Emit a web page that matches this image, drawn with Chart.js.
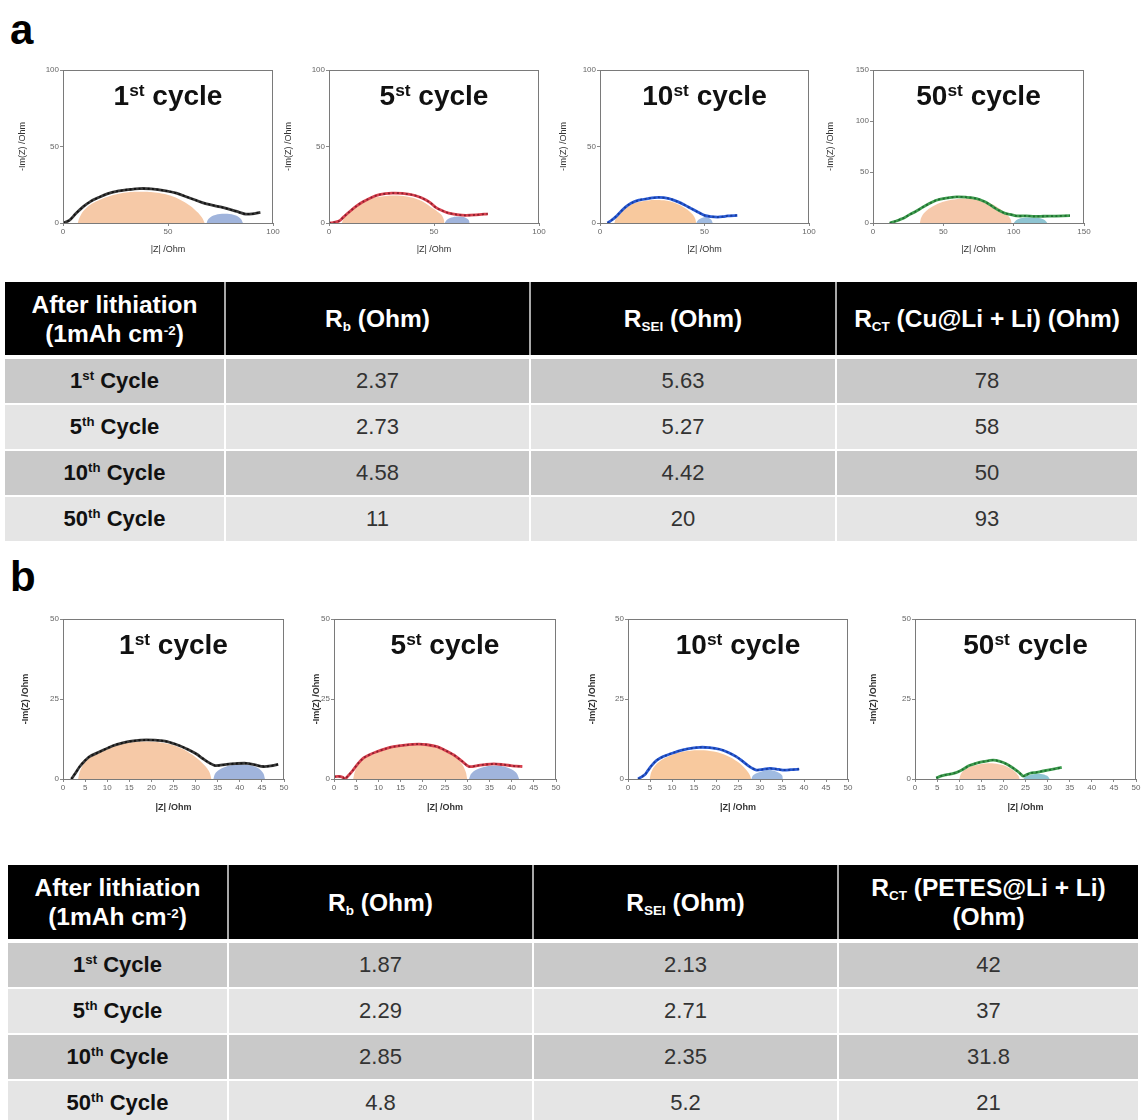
<!DOCTYPE html>
<html><head><meta charset="utf-8">
<script src="https://cdn.jsdelivr.net/npm/chart.js@4.4.1/dist/chart.umd.min.js"></script>
<style>
html,body{margin:0;padding:0;background:#fff;}
body{width:1142px;height:1120px;position:relative;overflow:hidden;font-family:"Liberation Sans",Arial,sans-serif;}
.panel{position:absolute;font-weight:bold;font-size:42px;color:#000;line-height:42px;}
.box{position:absolute;}
.ttl{position:absolute;font-weight:bold;font-size:28px;color:#111;white-space:nowrap;text-align:center;line-height:30px;}
.ttl sup{font-size:0.62em;vertical-align:baseline;position:relative;top:-0.5em;}
.cell{position:absolute;display:flex;align-items:center;justify-content:center;text-align:center;box-sizing:border-box;white-space:nowrap;}
.cell > span{display:block;text-align:center;}
.hd{background:#000;color:#fff;font-weight:bold;font-size:24.5px;line-height:29px;}
.hd sub{font-size:0.55em;vertical-align:-0.28em;line-height:0;}
.hd sup{font-size:0.55em;vertical-align:0.55em;line-height:0;}
.c0{font-weight:bold;font-size:22px;color:#111;}
.c0 sup{font-size:0.6em;vertical-align:0.6em;line-height:0;}
.cv{font-size:22px;color:#333;}
</style>
</head><body>
<div class="panel" style="left:10px;top:9px;">a</div>
<div class="panel" style="left:10px;top:556px;">b</div>
<div id="root"></div>
<script>
// ---------------- DATA ----------------
const titleNums = ["1", "5", "10", "50"];
const titleSups = ["st", "st", "st", "st"];

// Nyquist curves: [ |Z| , -Im(Z) ]
const a1Curve = [[0,0],[3,1.7],[6,6],[9.5,10.5],[13,14],[17.5,17],[21,19],[25.5,20.7],[31,21.8],[36.5,22.5],[42,22.3],[49,21],[54,19.5],[59,17],[63,15],[66,13.5],[70,12],[75,10.5],[81,8.3],[84,7],[87,5.8],[90,6],[94,7]];
const a1Arc = [[7,0],[8,4],[10.5,9],[15,13.5],[22,17.5],[29,19.8],[37,20.5],[45,19.8],[52,17.5],[58,13.5],[62.5,9],[66,4],[67.5,0]];
const a1Small = [[68.3,0],[69.5,3],[72.5,5.2],[77,6],[81.5,5.2],[84.5,3],[85.7,0]];

const a2Curve = [[0,0],[2,0.3],[4.8,1.3],[7,4],[9.6,7.2],[13,11],[16,13.7],[20,16.5],[24,18.5],[30,19.5],[35,19.3],[40,18.3],[44,16.5],[48,13.5],[51,10],[54,8],[57,6.5],[61,5.5],[65,5],[70,5.3],[75.6,6]];
const a2Arc = [[6,0],[7.5,4],[10,8.5],[14,12.5],[20,16],[26,17.5],[31,18],[37,17.3],[43,15],[48,11],[53,6],[54.5,3],[55,0]];
const a2Small = [[55,0],[56.5,2.5],[59,3.8],[62,4.2],[65,3.5],[66.5,2],[67,0]];

const a3Curve = [[3.6,0],[5.5,1.8],[7.5,4],[10,7.5],[12.3,10.5],[15,13],[18.6,14.9],[23,16],[28,16.7],[33,16],[37.4,13.8],[40.5,11.8],[43.7,9.4],[47,7],[50,5],[53,4.2],[56.3,3.9],[59,4.2],[61,4.6],[65.7,5]];
const a3Arc = [[6.8,0],[7.8,3.5],[10,7.5],[13.5,11],[18,13.5],[23,14.7],[27,15],[32,14.5],[37,12.5],[41,9.5],[44,6],[45.5,3],[46,0]];
const a3Small = [[46,0],[47,2],[49,3.5],[51,3.8],[53,2.5],[54,0]];

const a4Curve = [[11.9,0],[16.6,2],[19,3.3],[22,5],[26,8.2],[30,11],[35.6,15.7],[40,19],[45,22.3],[52,24.5],[59.4,25.6],[66,25.3],[73.6,24],[80,20.5],[85.5,15.7],[90,12],[94,9.5],[97.4,8.5],[102,7],[109,6.9],[115,6.5],[121,6.6],[130,6.8],[140,7.2]];
const a4Arc = [[33.3,0],[34.5,6],[38,12],[44,17.5],[52,21.5],[60,23.5],[66.5,24],[74,23],[82,20],[89,15],[94,9.5],[97.5,4.5],[98.6,0]];
const a4Small = [[100,0],[102,3],[106,5],[112,5.5],[118,5],[122,3],[124,0]];

const b1Curve = [[1.9,0],[2.8,1.8],[3.8,3.9],[4.8,5.5],[6,7],[8.3,8.5],[11.3,10.4],[13.5,11.3],[15.9,11.9],[18.9,12.2],[22.7,11.9],[24.5,11.3],[26.4,10.4],[28.3,9.2],[30.2,7.8],[31.6,6.4],[32.9,5.2],[34.4,4.2],[37,4.6],[39,4.8],[41.5,4.9],[43.5,4.4],[45.3,3.9],[47,4.1],[48.7,4.6]];
const b1Arc = [[3.4,0],[4,3],[5.5,6],[8,8.5],[11,10.3],[14.5,11.3],[18.5,11.7],[22.5,11.3],[26,10],[29,7.8],[31.5,5],[33,2.5],[33.6,0]];
const b1Small = [[34,0],[34.6,2],[36.5,3.7],[40,4.5],[43.5,3.8],[45.2,2],[45.7,0]];

const b2Curve = [[0,0.7],[1,0.8],[2,0.5],[2.4,0],[3.2,1],[4.3,2.8],[5.4,4.8],[6.6,6.5],[8,7.6],[9.6,8.5],[11.5,9.4],[13.4,10.1],[16,10.6],[19,10.9],[21,10.7],[23.2,10.1],[25,9],[27,7.5],[28.8,5.6],[30.4,3.9],[32.3,4.2],[34,4.5],[36,4.7],[38,4.5],[39.8,4.2],[41,4],[42.4,3.9]];
const b2Arc = [[4.3,0],[4.9,3],[6.5,6],[9,8.3],[12,9.8],[15,10.4],[18,10.6],[21,10.4],[24,9.4],[26.5,7.8],[28.5,5.2],[29.6,2.5],[30,0]];
const b2Small = [[30.4,0],[31,1.8],[33,3.4],[36,4.2],[39,3.6],[41,2],[41.7,0]];

const b3Curve = [[2.3,0],[3,0.6],[3.8,1.3],[4.5,2.6],[5.3,4.1],[6.5,5.8],[8,7],[9.5,7.8],[11,8.5],[13.5,9.4],[16.3,9.9],[18.5,9.8],[20.8,9.3],[22.8,8.3],[24.6,7],[26,5.6],[27.3,4.2],[28.2,3.4],[29.2,2.8],[30.7,3],[32.2,3.3],[33.7,3.1],[35.2,2.8],[37,2.9],[38.9,3.1]];
const b3Arc = [[4.9,0],[5.5,2.8],[7,5.3],[9.5,7.3],[12.5,8.5],[16,9],[19.5,8.6],[22.5,7.3],[25,5.3],[26.8,3],[27.7,1.2],[28,0]];
const b3Small = [[28,0],[28.6,1.3],[30.5,2.4],[32,2.8],[33.8,2.3],[35,1.2],[35.2,0]];

const b4Curve = [[4.8,0.3],[5.8,0.9],[7,1.3],[8.2,1.6],[9.3,2],[10.8,3],[12.3,4.2],[13.8,4.9],[15.4,5.4],[17.7,5.9],[19.2,5.5],[20.7,4.7],[22,3.6],[23,2.6],[23.8,1.7],[24.5,0.9],[25.2,1.3],[26,1.8],[27.5,2.1],[29,2.5],[31,3],[33.2,3.6]];
const b4Arc = [[10,0],[10.6,2],[12,3.5],[14,4.4],[16.5,4.9],[19,4.6],[21,3.7],[22.6,2.3],[23.4,1],[23.7,0]];
const b4Small = [[24.5,0],[25.2,0.9],[26.8,1.5],[28.5,1.6],[29.9,1],[30.5,0]];

// Axis ticks
const aXMax = [100, 100, 100, 150];
const aYMax = [100, 100, 100, 150];
const aStep = 50;
const bXMax = 50, bYMax = 50, bXStep = 5, bYStep = 25;

// Tables
const rowNums = ["1", "5", "10", "50"];
const rowSups = ["st", "th", "th", "th"];
const rbA = ["2.37", "2.73", "4.58", "11"];
const rseiA = ["5.63", "5.27", "4.42", "20"];
const rctA = ["78", "58", "50", "93"];
const rbB = ["1.87", "2.29", "2.85", "4.8"];
const rseiB = ["2.13", "2.71", "2.35", "5.2"];
const rctB = ["42", "37", "31.8", "21"];

// ---------------- STYLE / LAYOUT ----------------
const FONT = "'Liberation Sans', Arial, sans-serif";
Chart.defaults.font.family = FONT;
Chart.defaults.animation = false;

const seriesStyle = [
  {line:'#3a3a3a', dot:'#111111', arc:'rgba(245,196,160,0.92)', small:'rgba(150,172,216,0.9)'},
  {line:'#d8424f', dot:'#8c1f2e', arc:'rgba(245,196,160,0.92)', small:'rgba(150,172,216,0.9)'},
  {line:'#2a5bd6', dot:'#173c9c', arc:'rgba(247,196,150,0.92)', small:'rgba(150,180,222,0.9)'},
  {line:'#3f9e4f', dot:'#1f6b31', arc:'rgba(245,196,165,0.92)', small:'rgba(130,190,205,0.9)'}
];

// plot area geometry [left, top, right, bottom, yTitleCenterX]
const boxesA = [[63,70,273,223,22],[329,70,539,223,288],[600,70,809,223,563],[873,70,1084,223,830]];
const boxesB = [[63,619,284,779,25],[334,619,556,779,316],[628,619,848,779,592],[915,619,1136,779,873]];

const framePlugin = {
  id: 'frame',
  afterDatasetsDraw(chart) {
    const {ctx, chartArea: a} = chart;
    ctx.save();
    ctx.strokeStyle = '#7a7a7a';
    ctx.lineWidth = 1;
    ctx.strokeRect(Math.round(a.left) + 0.5, Math.round(a.top) + 0.5, Math.round(a.right - a.left) - 1, Math.round(a.bottom - a.top));
    ctx.restore();
  }
};

const toXY = arr => arr.map(p => ({x: p[0], y: p[1]}));
const root = document.getElementById('root');

function makePlot(idx, box, curve, arc, small, style, xMax, yMax, xStep, yStep, boldTitles, xAxisH) {
  const [L, T, R, B, tX] = box;
  const padTop = 8, padRight = 12;
  const axisLeft = Math.round(tX - 5.4);
  const yW = L - axisLeft;
  const w = (R - axisLeft) + padRight;
  const h = padTop + (B - T) + xAxisH;
  const div = document.createElement('div');
  div.className = 'box';
  div.style.cssText = `left:${axisLeft}px;top:${T - padTop}px;width:${w}px;height:${h}px;`;
  const cv = document.createElement('canvas');
  div.appendChild(cv);
  root.appendChild(div);

  const tickFont = {size: 8, family: FONT};
  const titleFont = {size: 9, family: FONT, weight: boldTitles ? 'bold' : 'normal'};
  new Chart(cv, {
    type: 'line',
    data: {
      datasets: [
        {data: toXY(curve), borderColor: style.dot, borderWidth: 1.8, borderDash: [2, 2.5], pointRadius: 0, tension: 0.3, fill: false, order: 0},
        {data: toXY(curve), borderColor: style.line, borderWidth: 2.8, pointRadius: 0, tension: 0.3, fill: false, order: 1},
        {data: toXY(small), backgroundColor: style.small, borderWidth: 0, pointRadius: 0, tension: 0.4, fill: 'origin', order: 2},
        {data: toXY(arc), backgroundColor: style.arc, borderWidth: 0, pointRadius: 0, tension: 0.4, fill: 'origin', order: 3}
      ]
    },
    options: {
      responsive: true, maintainAspectRatio: false,
      layout: {padding: {top: padTop, right: padRight, left: 0, bottom: 0}},
      plugins: {legend: {display: false}, tooltip: {enabled: false}},
      scales: {
        x: {
          type: 'linear', min: 0, max: xMax,
          afterFit(s) { s.height = xAxisH; },
          ticks: {stepSize: xStep, font: tickFont, color: '#666', padding: 1, maxRotation: 0, autoSkip: false},
          grid: {drawOnChartArea: false, tickLength: 3, color: '#888'},
          border: {color: '#7a7a7a'},
          title: {display: true, text: '|Z| /Ohm', font: titleFont, color: '#333', padding: {top: 0, bottom: 0}}
        },
        y: {
          type: 'linear', min: 0, max: yMax,
          afterFit(s) { s.width = yW; },
          ticks: {stepSize: yStep, font: tickFont, color: '#666', padding: 1, autoSkip: false},
          grid: {drawOnChartArea: false, tickLength: 3, color: '#888'},
          border: {color: '#7a7a7a'},
          title: {display: true, text: '-Im(Z) /Ohm', font: titleFont, color: '#333', padding: {top: 0, bottom: 0}}
        }
      }
    },
    plugins: [framePlugin]
  });

  const t = document.createElement('div');
  t.className = 'ttl';
  t.style.left = L + 'px';
  t.style.width = (R - L) + 'px';
  t.style.top = (T + 11) + 'px';
  t.innerHTML = titleNums[idx] + '<sup>' + titleSups[idx] + '</sup> cycle';
  root.appendChild(t);
}

const aCurves = [[a1Curve,a1Arc,a1Small],[a2Curve,a2Arc,a2Small],[a3Curve,a3Arc,a3Small],[a4Curve,a4Arc,a4Small]];
const bCurves = [[b1Curve,b1Arc,b1Small],[b2Curve,b2Arc,b2Small],[b3Curve,b3Arc,b3Small],[b4Curve,b4Arc,b4Small]];
for (let i = 0; i < 4; i++) {
  makePlot(i, boxesA[i], aCurves[i][0], aCurves[i][1], aCurves[i][2], seriesStyle[i], aXMax[i], aYMax[i], aStep, aStep, false, 32);
  makePlot(i, boxesB[i], bCurves[i][0], bCurves[i][1], bCurves[i][2], seriesStyle[i], bXMax, bYMax, bXStep, bYStep, true, 34);
}

// ---------------- TABLES ----------------
function addDiv(cls, l, t, w, h, bg, html) {
  const d = document.createElement('div');
  d.className = cls;
  d.style.cssText = `left:${l}px;top:${t}px;width:${w}px;height:${h}px;` + (bg ? `background:${bg};` : '');
  if (html !== undefined) d.innerHTML = '<span>' + html + '</span>';
  root.appendChild(d);
  return d;
}

function buildTable(edges, hTop, hBot, rowTop, rowH, headers, rb, rsei, rct) {
  addDiv('cell', edges[0], hTop, edges[4] - edges[0], hBot - hTop, '#a8a8a8');
  for (let c = 0; c < 4; c++) {
    const l = edges[c] + (c > 0 ? 1 : 0);
    const w = edges[c + 1] - edges[c] - (c > 0 ? 1 : 0) - (c < 3 ? 1 : 0);
    addDiv('cell hd', l, hTop, w, hBot - hTop, null, headers[c]);
  }
  const rowBg = ['#c9c9c9', '#e5e5e5', '#c9c9c9', '#e5e5e5'];
  for (let r = 0; r < 4; r++) {
    const top = rowTop + r * (rowH + 2);
    const vals = [rowNums[r] + '<sup>' + rowSups[r] + '</sup> Cycle', rb[r], rsei[r], rct[r]];
    for (let c = 0; c < 4; c++) {
      const l = edges[c] + (c > 0 ? 1 : 0);
      const w = edges[c + 1] - edges[c] - (c > 0 ? 1 : 0) - (c < 3 ? 1 : 0);
      addDiv('cell ' + (c === 0 ? 'c0' : 'cv'), l, top, w, rowH, rowBg[r], vals[c]);
    }
  }
}

const headA = ['After lithiation<br>(1mAh cm<sup>-2</sup>)', 'R<sub>b</sub> (Ohm)', 'R<sub>SEI</sub> (Ohm)', 'R<sub>CT</sub> (Cu@Li + Li) (Ohm)'];
const headB = ['After lithiation<br>(1mAh cm<sup>-2</sup>)', 'R<sub>b</sub> (Ohm)', 'R<sub>SEI</sub> (Ohm)', 'R<sub>CT</sub> (PETES@Li + Li)<br>(Ohm)'];
buildTable([5, 225, 530, 836, 1137], 282, 355, 359, 44, headA, rbA, rseiA, rctA);
buildTable([8, 228, 533, 838, 1138], 865, 939, 943, 44, headB, rbB, rseiB, rctB);
</script>
</body></html>
